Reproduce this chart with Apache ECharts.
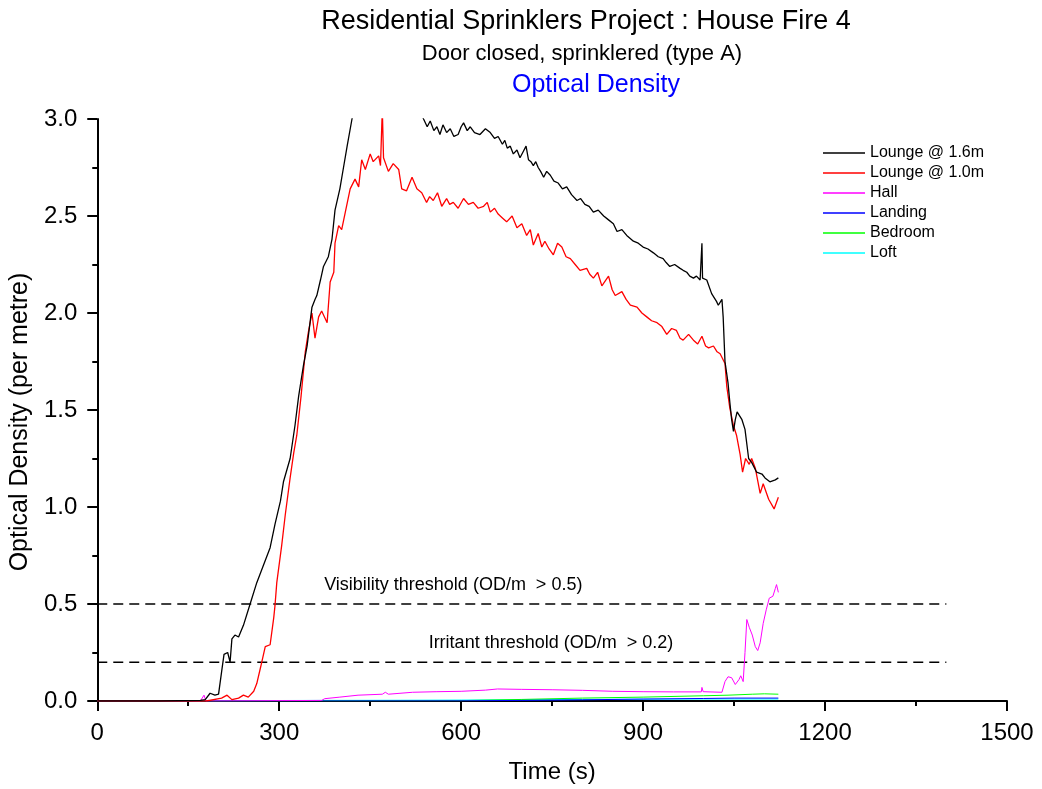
<!DOCTYPE html>
<html>
<head>
<meta charset="utf-8">
<title>Residential Sprinklers Project : House Fire 4</title>
<script src="https://cdn.jsdelivr.net/npm/echarts@6/dist/echarts.min.js"></script>
<style>
  html, body { margin: 0; padding: 0; background: #fff; }
  #main { width: 1042px; height: 789px; }
</style>
</head>
<body>
<div id="main"></div>
<script>
// readings: time (s) and optical density (per metre)
var lounge16T = [0, 100, 170, 178, 186, 194, 200, 205, 209, 215, 219, 222, 227, 233, 241, 252, 263, 274, 285, 293, 302, 307, 318, 326, 332,
  340, 346, 354, 359, 362, 368, 373, 381, 387, 392, 400, 406, 412, 420, 425, 450, 500, 530, 538, 544, 549, 555, 560, 565, 570, 576, 582, 588, 595, 600, 604, 610, 615, 622, 631,
  640, 648, 655, 661, 664, 668, 672, 676, 681, 686, 692, 697, 702, 707, 711, 715, 719, 723, 727, 731, 736, 741, 747, 753, 760, 767, 774, 782, 791, 797, 804, 811, 818, 826, 835, 843, 851, 857, 865, 873, 884, 892, 900, 908, 917, 925, 933, 938, 944,
  952, 961, 966, 972, 977, 983, 988, 994, 997, 998, 1005, 1013, 1021, 1024, 1030, 1032, 1035, 1040, 1043, 1046, 1049, 1052, 1055, 1063, 1068, 1074, 1079,
  1087, 1096, 1101, 1109, 1118, 1123];
var lounge16V = [0, 0, 0.003, 0.007, 0.04, 0.03, 0.035, 0.15, 0.24, 0.25, 0.20, 0.32, 0.34, 0.33, 0.39, 0.50, 0.61, 0.70, 0.79, 0.91, 1.03, 1.13, 1.25, 1.42, 1.57,
  1.73, 1.83, 2.03, 2.07, 2.09, 2.17, 2.24, 2.29, 2.38, 2.53, 2.64, 2.75, 2.86, 3.0, 3.08, 3.2, 3.2, 3.06, 3.0, 2.96, 2.99, 2.94, 2.96, 2.92, 2.97, 2.93, 2.95, 2.91, 2.92, 2.96, 2.98, 2.94, 2.96, 2.93, 2.92,
  2.95, 2.93, 2.90, 2.91, 2.92, 2.87, 2.89, 2.85, 2.86, 2.82, 2.84, 2.80, 2.83, 2.86, 2.79, 2.78, 2.76, 2.78, 2.75, 2.73, 2.70, 2.73, 2.71, 2.68, 2.67, 2.64, 2.65, 2.61, 2.58, 2.59, 2.56, 2.55, 2.52, 2.53, 2.50, 2.48, 2.46, 2.42, 2.43, 2.40, 2.37, 2.36, 2.34, 2.33, 2.31, 2.29, 2.28, 2.26, 2.24,
  2.25, 2.23, 2.22, 2.21, 2.19, 2.18, 2.19, 2.17, 2.36, 2.18, 2.17, 2.10, 2.06, 2.04, 2.07, 1.98, 1.75, 1.64, 1.54, 1.45, 1.39, 1.45, 1.49, 1.45, 1.40, 1.25, 1.23,
  1.18, 1.17, 1.15, 1.13, 1.14, 1.15];

var lounge10T = [0, 100, 180, 205, 214, 222, 233, 241, 249, 258, 263, 269, 277, 285, 291, 293, 296, 304, 310, 318, 324, 329, 336,
  343, 348, 354, 359, 365, 370, 379, 384, 390, 392, 398, 403, 409, 417, 425, 431, 436, 442, 450, 455, 464, 467, 470, 472, 480, 488, 497,
  502, 510, 519, 527, 535, 543, 548, 554, 561, 568, 576, 581, 587, 595, 604, 612, 620, 628, 637, 643, 648, 655, 661, 668, 675, 684, 692, 700, 708, 714, 719, 727, 733, 738, 745, 752, 759, 766, 773, 780, 788, 796, 807,
  812, 818, 825, 832, 843, 849, 854, 865, 872, 879, 890, 898, 906, 914, 923, 931, 939, 947, 955, 961, 966, 975, 983, 990, 997, 1003, 1008, 1016, 1022, 1027, 1035, 1038, 1043, 1049, 1054, 1060, 1064, 1069,
  1075, 1079, 1085, 1093, 1098, 1107, 1116, 1123];
var lounge10V = [0, 0, 0, 0.015, 0.03, 0.007, 0.015, 0.03, 0.02, 0.05, 0.09, 0.17, 0.28, 0.29, 0.43, 0.49, 0.61, 0.80, 0.96, 1.15, 1.28, 1.37, 1.57,
  1.80, 1.90, 2.00, 1.87, 1.98, 2.01, 1.95, 2.16, 2.21, 2.36, 2.45, 2.43, 2.52, 2.64, 2.69, 2.65, 2.79, 2.74, 2.82, 2.78, 2.81, 2.76, 3.05, 2.80, 2.73, 2.77, 2.74,
  2.64, 2.63, 2.70, 2.64, 2.62, 2.57, 2.60, 2.58, 2.62, 2.55, 2.59, 2.56, 2.57, 2.54, 2.59, 2.56, 2.57, 2.54, 2.55, 2.57, 2.52, 2.54, 2.51, 2.49, 2.47, 2.50, 2.44, 2.46, 2.40, 2.43, 2.35, 2.41, 2.34, 2.37, 2.33, 2.30, 2.36, 2.34, 2.29, 2.28, 2.25, 2.22, 2.23,
  2.20, 2.18, 2.21, 2.14, 2.19, 2.12, 2.09, 2.11, 2.07, 2.04, 2.03, 2.00, 1.98, 1.96, 1.95, 1.93, 1.89, 1.92, 1.91, 1.87, 1.86, 1.89, 1.86, 1.84, 1.88, 1.83, 1.82, 1.83, 1.80, 1.79, 1.74, 1.62, 1.51, 1.42, 1.37, 1.27, 1.18, 1.25,
  1.22, 1.25, 1.20, 1.07, 1.12, 1.04, 0.99, 1.05];

var hallT = [0, 170, 176, 179, 370, 375, 400, 430, 470, 475, 480, 520, 560, 600, 640, 660, 700, 750, 800, 850, 900, 950, 996, 997, 999,
  1030, 1035, 1040, 1046, 1052, 1058, 1061, 1065, 1068, 1071, 1075, 1080, 1085, 1089, 1093, 1098, 1103, 1108, 1114, 1118, 1120, 1123];
var hallV = [0, 0, 0.03, 0, 0.003, 0.012, 0.02, 0.03, 0.035, 0.045, 0.035, 0.045, 0.048, 0.05, 0.056, 0.062, 0.06, 0.058, 0.055, 0.05, 0.048, 0.047, 0.047, 0.07, 0.048,
  0.045, 0.10, 0.125, 0.12, 0.085, 0.11, 0.13, 0.10, 0.25, 0.42, 0.38, 0.34, 0.28, 0.26, 0.30, 0.40, 0.47, 0.53, 0.54, 0.58, 0.60, 0.56];

var landingT = [0, 600, 700, 800, 900, 1000, 1050, 1123];
var landingV = [0, 0.001, 0.003, 0.006, 0.01, 0.013, 0.015, 0.015];

var bedroomT = [0, 600, 700, 800, 900, 1000, 1040, 1080, 1100, 1123];
var bedroomV = [0, 0.002, 0.008, 0.015, 0.02, 0.027, 0.03, 0.035, 0.037, 0.035];

var loftT = [0, 360, 500, 600, 800, 1000, 1123];
var loftV = [0, 0.003, 0.004, 0.005, 0.008, 0.01, 0.01];

var seriesNames = ['Lounge @ 1.6m', 'Lounge @ 1.0m', 'Hall', 'Landing', 'Bedroom', 'Loft'];
var seriesColors = ['#000000', '#ff0000', '#ff00ff', '#0000ff', '#00ff00', '#00ffff'];
var seriesWidths = [1.3, 1.3, 1, 1, 1, 1];
var seriesT = [lounge16T, lounge10T, hallT, landingT, bedroomT, loftT];
var seriesV = [lounge16V, lounge10V, hallV, landingV, bedroomV, loftV];

var thresholdNames = ['Visibility threshold (OD/m  > 0.5)', 'Irritant threshold (OD/m  > 0.2)'];
var thresholdValues = [0.5, 0.2];
var thresholdEnd = 1400;

var xTicks = [0, 300, 600, 900, 1200, 1500];
var yTicks = [0, 0.5, 1.0, 1.5, 2.0, 2.5, 3.0];

var font = 'Liberation Sans, Arial, sans-serif';

function pairs(ts, vs) {
  return ts.map(function (t, i) { return [t, vs[i]]; });
}

var series = seriesNames.map(function (name, k) {
  return {
    name: name,
    type: 'line',
    data: pairs(seriesT[k], seriesV[k]),
    color: seriesColors[k],
    showSymbol: false,
    symbol: 'none',
    lineStyle: { width: seriesWidths[k], color: seriesColors[k] },
    clip: true,
    z: 10 - k
  };
});

thresholdValues.forEach(function (v, k) {
  series.push({
    name: thresholdNames[k],
    type: 'line',
    data: [[0, v], [thresholdEnd, v]],
    symbol: 'none',
    lineStyle: { width: 1.5, color: '#000', type: [10, 6] },
    silent: true,
    z: 1
  });
});

var chart = echarts.init(document.getElementById('main'));

var option = {
  animation: false,
  backgroundColor: '#fff',
  grid: { left: 97, right: 35, top: 119, bottom: 86 },
  legend: {
    data: seriesNames,
    orient: 'vertical',
    left: 823,
    top: 143,
    padding: 0,
    itemGap: 0,
    itemWidth: 42,
    itemHeight: 1.5,
    icon: 'rect',
    textStyle: { fontFamily: font, fontSize: 16, lineHeight: 20, color: '#000' }
  },
  xAxis: {
    type: 'value',
    min: xTicks[0],
    max: xTicks[xTicks.length - 1],
    interval: xTicks[1] - xTicks[0],
    name: 'Time (s)',
    nameLocation: 'middle',
    nameGap: 59,
    nameTextStyle: { fontFamily: font, fontSize: 24, color: '#000' },
    axisLine: { onZero: false, lineStyle: { color: '#000', width: 2 } },
    axisTick: { show: true, inside: false, length: 10, lineStyle: { color: '#000', width: 2 } },
    minorTick: { show: true, splitNumber: 2, length: 5, lineStyle: { color: '#000', width: 2 } },
    splitLine: { show: false },
    axisLabel: {
      fontFamily: font, fontSize: 24, color: '#000', margin: 20,
      formatter: function (v) { return String(v); }
    }
  },
  yAxis: {
    type: 'value',
    min: yTicks[0],
    max: yTicks[yTicks.length - 1],
    interval: yTicks[1] - yTicks[0],
    name: 'Optical Density (per metre)',
    nameLocation: 'middle',
    nameGap: 62,
    nameTextStyle: { fontFamily: font, fontSize: 25, color: '#000', padding: [0, 24, 0, 0] },
    axisLine: { show: true, onZero: false, lineStyle: { color: '#000', width: 2 } },
    axisTick: { show: true, inside: false, length: 10, lineStyle: { color: '#000', width: 2 } },
    minorTick: { show: true, splitNumber: 2, length: 5, lineStyle: { color: '#000', width: 2 } },
    splitLine: { show: false },
    axisLabel: {
      fontFamily: font, fontSize: 24, color: '#000', margin: 20,
      formatter: function (v) { return v.toFixed(1); }
    }
  },
  graphic: [
    { type: 'text', x: 586, y: 22, style: { text: 'Residential Sprinklers Project : House Fire 4', font: '27px ' + font, fill: '#000', textAlign: 'center', textVerticalAlign: 'middle' } },
    { type: 'text', x: 582, y: 54, style: { text: 'Door closed, sprinklered (type A)', font: '22px ' + font, fill: '#000', textAlign: 'center', textVerticalAlign: 'middle' } },
    { type: 'text', x: 596, y: 85, style: { text: 'Optical Density', font: '25px ' + font, fill: '#0000ff', textAlign: 'center', textVerticalAlign: 'middle' } }
  ],
  series: series
};

chart.setOption(option);

// threshold captions placed in data coordinates
var capAt = [[587, 0.6], [748, 0.3]];
var caps = capAt.map(function (p, k) {
  var px = chart.convertToPixel({ gridIndex: 0 }, p);
  return {
    type: 'text', x: px[0], y: px[1],
    style: { text: thresholdNames[k], font: '18px ' + font, fill: '#000', textAlign: 'center', textVerticalAlign: 'middle' }
  };
});
chart.setOption({ graphic: option.graphic.concat(caps) });
</script>
</body>
</html>
